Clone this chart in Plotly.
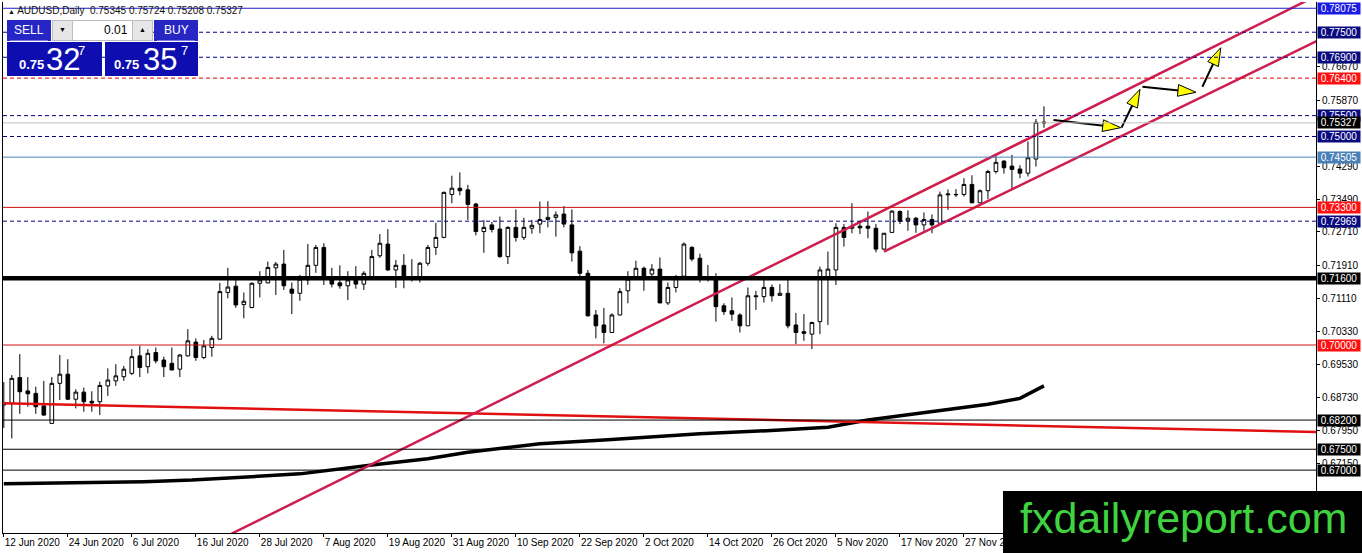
import plotly.graph_objects as go

FONT = "Liberation Sans, Arial, sans-serif"

# daily AUDUSD candles, bar 0 = 12 Jun 2020
opens = [0.6856, 0.6859, 0.6922, 0.6890, 0.6884, 0.6854, 0.6812, 0.6908, 0.6930, 0.6870,
         0.6887, 0.6865, 0.6864, 0.6902, 0.6914, 0.6924, 0.6932, 0.6974, 0.6948, 0.6982,
         0.6964, 0.6956, 0.6942, 0.6974, 0.7007, 0.6970, 0.6994, 0.7014, 0.7126, 0.7141,
         0.7097, 0.7090, 0.7148, 0.7149, 0.7185, 0.7194, 0.7134, 0.7124, 0.7156, 0.7191,
         0.7234, 0.7158, 0.7149, 0.7142, 0.7156, 0.7146, 0.7164, 0.7214, 0.7242, 0.7180,
         0.7191, 0.7162, 0.7162, 0.7196, 0.7234, 0.7258, 0.7361, 0.7376, 0.7372, 0.7338,
         0.7272, 0.7288, 0.7278, 0.7212, 0.7282, 0.7258, 0.7280, 0.7290, 0.7301, 0.7306,
         0.7314, 0.7288, 0.7225, 0.7172, 0.7072, 0.7048, 0.7030, 0.7072, 0.7130, 0.7158,
         0.7184, 0.7170, 0.7182, 0.7101, 0.7138, 0.7165, 0.7234, 0.7208, 0.7160, 0.7162,
         0.7094, 0.7082, 0.7072, 0.7046, 0.7118, 0.7116, 0.7138, 0.7119, 0.7124, 0.7048,
         0.7032, 0.7026, 0.7056, 0.7162, 0.7180, 0.7282, 0.7280, 0.7285, 0.7285, 0.7280,
         0.7230, 0.7270, 0.7320, 0.7298, 0.7304, 0.7288, 0.7301, 0.7292, 0.7360, 0.7360,
         0.7361, 0.7385, 0.7341, 0.7370, 0.7416, 0.7441, 0.7429, 0.7422, 0.7412, 0.7446,
         0.75345]
highs = [0.6911, 0.6928, 0.6978, 0.6923, 0.6900, 0.6914, 0.6923, 0.6976, 0.6966, 0.6894,
         0.6898, 0.6889, 0.6912, 0.6944, 0.6954, 0.6950, 0.6990, 0.6998, 0.6990, 0.6994,
         0.6972, 0.6994, 0.6978, 0.7038, 0.7016, 0.7012, 0.7022, 0.7149, 0.7185, 0.7156,
         0.7126, 0.7150, 0.7177, 0.7200, 0.7199, 0.7228, 0.7150, 0.7168, 0.7242, 0.7240,
         0.7244, 0.7185, 0.7191, 0.7177, 0.7189, 0.7177, 0.7228, 0.7266, 0.7278, 0.7204,
         0.7218, 0.7206, 0.7199, 0.7240, 0.7293, 0.7368, 0.7406, 0.7414, 0.7384, 0.7341,
         0.7300, 0.7295, 0.7308, 0.7285, 0.7325, 0.7305, 0.7300, 0.7344, 0.7345, 0.7320,
         0.7333, 0.7325, 0.7237, 0.7180, 0.7084, 0.7089, 0.7076, 0.7136, 0.7177, 0.7202,
         0.7188, 0.7194, 0.7210, 0.7150, 0.7168, 0.7246, 0.7237, 0.7219, 0.7192, 0.7172,
         0.7100, 0.7114, 0.7076, 0.7138, 0.7130, 0.7158, 0.7145, 0.7146, 0.7156, 0.7077,
         0.7074, 0.7056, 0.7188, 0.7224, 0.7292, 0.7290, 0.7340, 0.7295, 0.7320, 0.7290,
         0.7268, 0.7323, 0.7323, 0.7323, 0.7307, 0.7318, 0.7313, 0.7368, 0.7373, 0.7374,
         0.7400, 0.7407, 0.7373, 0.7420, 0.7453, 0.7443, 0.7456, 0.7431, 0.7488, 0.7542,
         0.75724]
lows = [0.6801, 0.6776, 0.6835, 0.6852, 0.6835, 0.6830, 0.6812, 0.6868, 0.6868, 0.6848,
        0.6840, 0.6840, 0.6832, 0.6878, 0.6902, 0.6914, 0.6928, 0.6923, 0.6932, 0.6956,
        0.6923, 0.6940, 0.6923, 0.6972, 0.6962, 0.6966, 0.6972, 0.7012, 0.7112, 0.7089,
        0.7064, 0.7088, 0.7114, 0.7148, 0.7120, 0.7132, 0.7074, 0.7106, 0.7144, 0.7173,
        0.7144, 0.7138, 0.7135, 0.7108, 0.7135, 0.7132, 0.7160, 0.7209, 0.7178, 0.7137,
        0.7136, 0.7152, 0.7150, 0.7190, 0.7216, 0.7256, 0.7340, 0.7359, 0.7300, 0.7263,
        0.7221, 0.7270, 0.7209, 0.7194, 0.7248, 0.7252, 0.7267, 0.7268, 0.7282, 0.7260,
        0.7282, 0.7200, 0.7158, 0.7068, 0.7016, 0.7004, 0.7030, 0.7071, 0.7100, 0.7156,
        0.7130, 0.7164, 0.7100, 0.7096, 0.7126, 0.7164, 0.7201, 0.7150, 0.7152, 0.7056,
        0.7072, 0.7058, 0.7030, 0.7046, 0.7084, 0.7102, 0.7104, 0.7118, 0.7040, 0.7002,
        0.7010, 0.6990, 0.7026, 0.7048, 0.7144, 0.7236, 0.7268, 0.7266, 0.7256, 0.7222,
        0.7228, 0.7270, 0.7290, 0.7274, 0.7269, 0.7274, 0.7268, 0.7292, 0.7324, 0.7355,
        0.7356, 0.7340, 0.7340, 0.7350, 0.7411, 0.7411, 0.7374, 0.7400, 0.7404, 0.7428,
        0.75208]
closes = [0.6861, 0.6920, 0.6888, 0.6883, 0.6852, 0.6832, 0.6908, 0.6930, 0.6870, 0.6887,
          0.6864, 0.6861, 0.6903, 0.6916, 0.6926, 0.6942, 0.6972, 0.6946, 0.6980, 0.6962,
          0.6948, 0.6940, 0.6976, 0.7010, 0.6970, 0.6998, 0.7016, 0.7128, 0.7139, 0.7096,
          0.7105, 0.7148, 0.7156, 0.7186, 0.7194, 0.7142, 0.7124, 0.7158, 0.7191, 0.7234,
          0.7162, 0.7146, 0.7142, 0.7156, 0.7146, 0.7172, 0.7212, 0.7244, 0.7180, 0.7191,
          0.7162, 0.7160, 0.7196, 0.7234, 0.7258, 0.7366, 0.7376, 0.7370, 0.7337, 0.7272,
          0.7282, 0.7277, 0.7212, 0.7282, 0.7258, 0.7282, 0.7287, 0.7301, 0.7306, 0.7312,
          0.7290, 0.7221, 0.7172, 0.7070, 0.7046, 0.7030, 0.7072, 0.7128, 0.7158, 0.7184,
          0.7164, 0.7182, 0.7101, 0.7138, 0.7160, 0.7242, 0.7206, 0.7162, 0.7158, 0.7092,
          0.7080, 0.7074, 0.7046, 0.7118, 0.7116, 0.7138, 0.7118, 0.7124, 0.7046, 0.7030,
          0.7028, 0.7054, 0.7180, 0.7182, 0.7282, 0.7258, 0.7284, 0.7281, 0.7280, 0.7230,
          0.7268, 0.7321, 0.7297, 0.7304, 0.7288, 0.7301, 0.7288, 0.7360, 0.7362, 0.7361,
          0.7385, 0.7341, 0.7370, 0.7416, 0.7438, 0.7425, 0.7421, 0.7412, 0.7449, 0.7534,
          0.75327]
bars = list(range(len(opens)))

date_bars = [0, 8, 16, 24, 32, 40, 48, 56, 64, 72, 80, 88, 96, 104, 112, 120]
date_labels = ["12 Jun 2020", "24 Jun 2020", "6 Jul 2020", "16 Jul 2020", "28 Jul 2020",
               "7 Aug 2020", "19 Aug 2020", "31 Aug 2020", "10 Sep 2020", "22 Sep 2020",
               "2 Oct 2020", "14 Oct 2020", "26 Oct 2020", "5 Nov 2020", "17 Nov 2020",
               "27 Nov 2020"]
price_ticks = [0.6715, 0.6795, 0.6873, 0.6953, 0.7033, 0.7111, 0.7191, 0.7271,
               0.7349, 0.7429, 0.7587, 0.7667]

# long moving average (black)
ma_bars = [0, 11.5, 17.5, 23.5, 31, 37, 46, 53, 58, 67, 75, 87, 97, 103, 108, 112, 118, 123, 127, 130]
ma_values = [0.6667, 0.6669, 0.6672, 0.6676, 0.6684, 0.6691, 0.6712, 0.6727, 0.6743, 0.6763,
             0.6772, 0.6787, 0.6796, 0.6803, 0.6820, 0.6830, 0.6844, 0.6858, 0.6872, 0.6902]

# drawn objects
trend_bars = [-1, 165]
trend_prices = [0.6861, 0.6791]
chan_up_bars = [20, 170]
chan_up_prices = [0.6467, 0.7894]
chan_lo_bars = [110.0, 170]
chan_lo_prices = [0.7224, 0.7784]
arrows = [
    ([131.2, 139.6], [0.75396, 0.75211]),
    ([139.7, 142.0], [0.75211, 0.76132]),
    ([142.3, 149.0], [0.76194, 0.76060]),
    ([149.8, 152.1], [0.76194, 0.77129]),
]

levels = [0.78075, 0.77500, 0.76900, 0.76400, 0.75500, 0.75327, 0.75000, 0.74505,
          0.73300, 0.72969, 0.71600, 0.70000, 0.68200, 0.67500, 0.67000]
# (line colour, dash, width, label background)
level_styles = [
    ("#1c1cc8", "solid", 1, "#1a1ae6"),
    ("#000080", "4px,3px", 1, "#0a0a80"),
    ("#000080", "4px,3px", 1, "#0a0a80"),
    ("#e00000", "4px,3px", 1, "#ff1010"),
    ("#000080", "4px,3px", 1, "#0a0a80"),
    ("#c0c0c0", "solid", 1, "#000000"),
    ("#000080", "4px,3px", 1, "#0a0a80"),
    ("#4682b4", "solid", 1, "#4a80b8"),
    ("#d01010", "solid", 1, "#ff1010"),
    ("#000080", "4px,3px", 1, "#0a0a80"),
    ("#000000", "solid", 4.5, "#000000"),
    ("#d01010", "solid", 1, "#ff1010"),
    ("#000000", "solid", 1, "#000000"),
    ("#000000", "solid", 1, "#000000"),
    ("#000000", "solid", 1, "#000000"),
]

W, H = 1362, 553
L, R, T, B = 3, 46, 2, 20
PW, PH = W - L - R, H - T - B


def px_x(px):
    return (px - L) / PW


def px_y(py):
    return (H - B - py) / PH


fig = go.Figure()

fig.add_trace(go.Candlestick(
    x=bars, open=opens, high=highs, low=lows, close=closes,
    increasing=dict(fillcolor="white", line=dict(color="black", width=1)),
    decreasing=dict(fillcolor="black", line=dict(color="black", width=1)),
    whiskerwidth=0, hoverinfo="skip", showlegend=False,
))

fig.add_trace(go.Scatter(x=ma_bars, y=ma_values, mode="lines",
                         line=dict(color="black", width=3.5), hoverinfo="skip", showlegend=False))
fig.add_trace(go.Scatter(x=trend_bars, y=trend_prices, mode="lines",
                         line=dict(color="#e01010", width=2.5), hoverinfo="skip", showlegend=False))

for lv, (col, dash, w, _) in zip(levels, level_styles):
    fig.add_hline(y=lv, line=dict(color=col, dash=dash, width=w), layer="above")

for bx, by in [(chan_up_bars, chan_up_prices), (chan_lo_bars, chan_lo_prices)]:
    fig.add_trace(go.Scatter(x=bx, y=by, mode="lines",
                             line=dict(color="#cf1d4e", width=2.5), hoverinfo="skip", showlegend=False))

for ax, ay in arrows:
    fig.add_trace(go.Scatter(
        x=ax, y=ay, mode="lines+markers",
        line=dict(color="black", width=2),
        marker=dict(symbol="arrow", size=19, angleref="previous", color="#ffff00",
                    line=dict(color="black", width=1)),
        hoverinfo="skip", showlegend=False,
    ))

annotations = []
for lv, (_, _, _, bg) in zip(levels, level_styles):
    annotations.append(dict(
        xref="paper", yref="y", x=1, y=lv, xanchor="left", yanchor="middle", xshift=1,
        text=f"{lv:.5f}", showarrow=False, bgcolor=bg, width=42, height=11, borderpad=0,
        font=dict(family=FONT, size=10, color="white"),
    ))

# header line
annotations.append(dict(
    xref="paper", yref="paper", x=px_x(6), y=px_y(11), xanchor="left", yanchor="middle",
    text="<span style='font-size:7px'>▲</span> AUDUSD,Daily  0.75345 0.75724 0.75208 0.75327",
    showarrow=False, font=dict(family=FONT, size=10, color="#111111"),
))

# one-click trading panel
shapes = []


def box(x0, y0, x1, y1, color):
    shapes.append(dict(type="rect", xref="paper", yref="paper",
                       x0=px_x(x0), x1=px_x(x1), y0=px_y(y1), y1=px_y(y0),
                       fillcolor=color, line=dict(width=0), layer="above"))


def label(cx, cy, text, size, color="white", bold=False, anchor="center"):
    annotations.append(dict(
        xref="paper", yref="paper", x=px_x(cx), y=px_y(cy), xanchor=anchor, yanchor="middle",
        text=f"<b>{text}</b>" if bold else text, showarrow=False,
        font=dict(family=FONT, size=size, color=color),
    ))


box(7, 20, 51, 41, "#2626c4")
box(154, 20, 198, 41, "#2626c4")
box(10, 40, 48, 41, "#7a7ad8")
box(157, 40, 195, 41, "#7a7ad8")
box(52, 20, 153, 41, "#bdbdbd")
box(53, 21, 72, 40, "#e6e6e6")
box(73, 21, 132, 40, "white")
box(133, 21, 152, 40, "#e6e6e6")
box(7, 42, 102, 76, "#0e0eb0")
box(105, 42, 198, 76, "#0e0eb0")

label(29, 30, "SELL", 12)
label(176, 30, "BUY", 12)
label(62.5, 30, "▼", 7, color="black")
label(142.5, 30, "▲", 7, color="black")
label(130, 30, "0.01", 12, color="black", anchor="right")
label(31, 64, "0.75", 13, bold=True)
label(63, 59, "32", 31)
label(81, 51, "7", 13)
label(126, 64, "0.75", 13, bold=True)
label(160, 59, "35", 31)
label(184, 51, "7", 13)

# watermark
shapes.append(dict(type="rect", xref="paper", yref="paper",
                   x0=px_x(1003), x1=px_x(1363), y0=px_y(554), y1=px_y(491),
                   fillcolor="black", line=dict(width=0), layer="above"))
annotations.append(dict(
    xref="paper", yref="paper", x=px_x(1183), y=px_y(518), xanchor="center", yanchor="middle",
    text="fxdailyreport.com", showarrow=False,
    font=dict(family=FONT, size=43, color="#3fd43f"),
))

fig.update_layout(
    width=W, height=H,
    margin=dict(l=L, r=R, t=T, b=B, autoexpand=False),
    paper_bgcolor="white", plot_bgcolor="white",
    font=dict(family=FONT, size=10, color="black"),
    showlegend=False,
    shapes=list(fig.layout.shapes) + shapes,
    annotations=annotations,
    boxgap=0.35,
    xaxis=dict(
        range=[-0.1, 164.0], rangeslider=dict(visible=False),
        tickvals=date_bars, ticktext=date_labels, ticklabelposition="outside right",
        tickangle=0, automargin=False,
        ticks="outside", ticklen=3, tickcolor="black",
        showline=True, linecolor="black", linewidth=1,
        showgrid=False, zeroline=False, fixedrange=True,
        tickfont=dict(family=FONT, size=10, color="black"),
    ),
    yaxis=dict(
        range=[0.65492, 0.78225], side="right", automargin=False,
        tickvals=price_ticks, ticktext=[f"{v:.5f}" for v in price_ticks],
        ticks="outside", ticklen=3, tickcolor="black",
        showline=True, linecolor="black", linewidth=1, mirror=True,
        showgrid=False, zeroline=False, fixedrange=True,
        tickfont=dict(family=FONT, size=10, color="black"),
    ),
)

# page has a default body margin; drop it so the chart fills the window
fig.write_html("out.html", config={"displayModeBar": False},
               post_script="document.body.style.margin='0';document.body.style.overflow='hidden';")
